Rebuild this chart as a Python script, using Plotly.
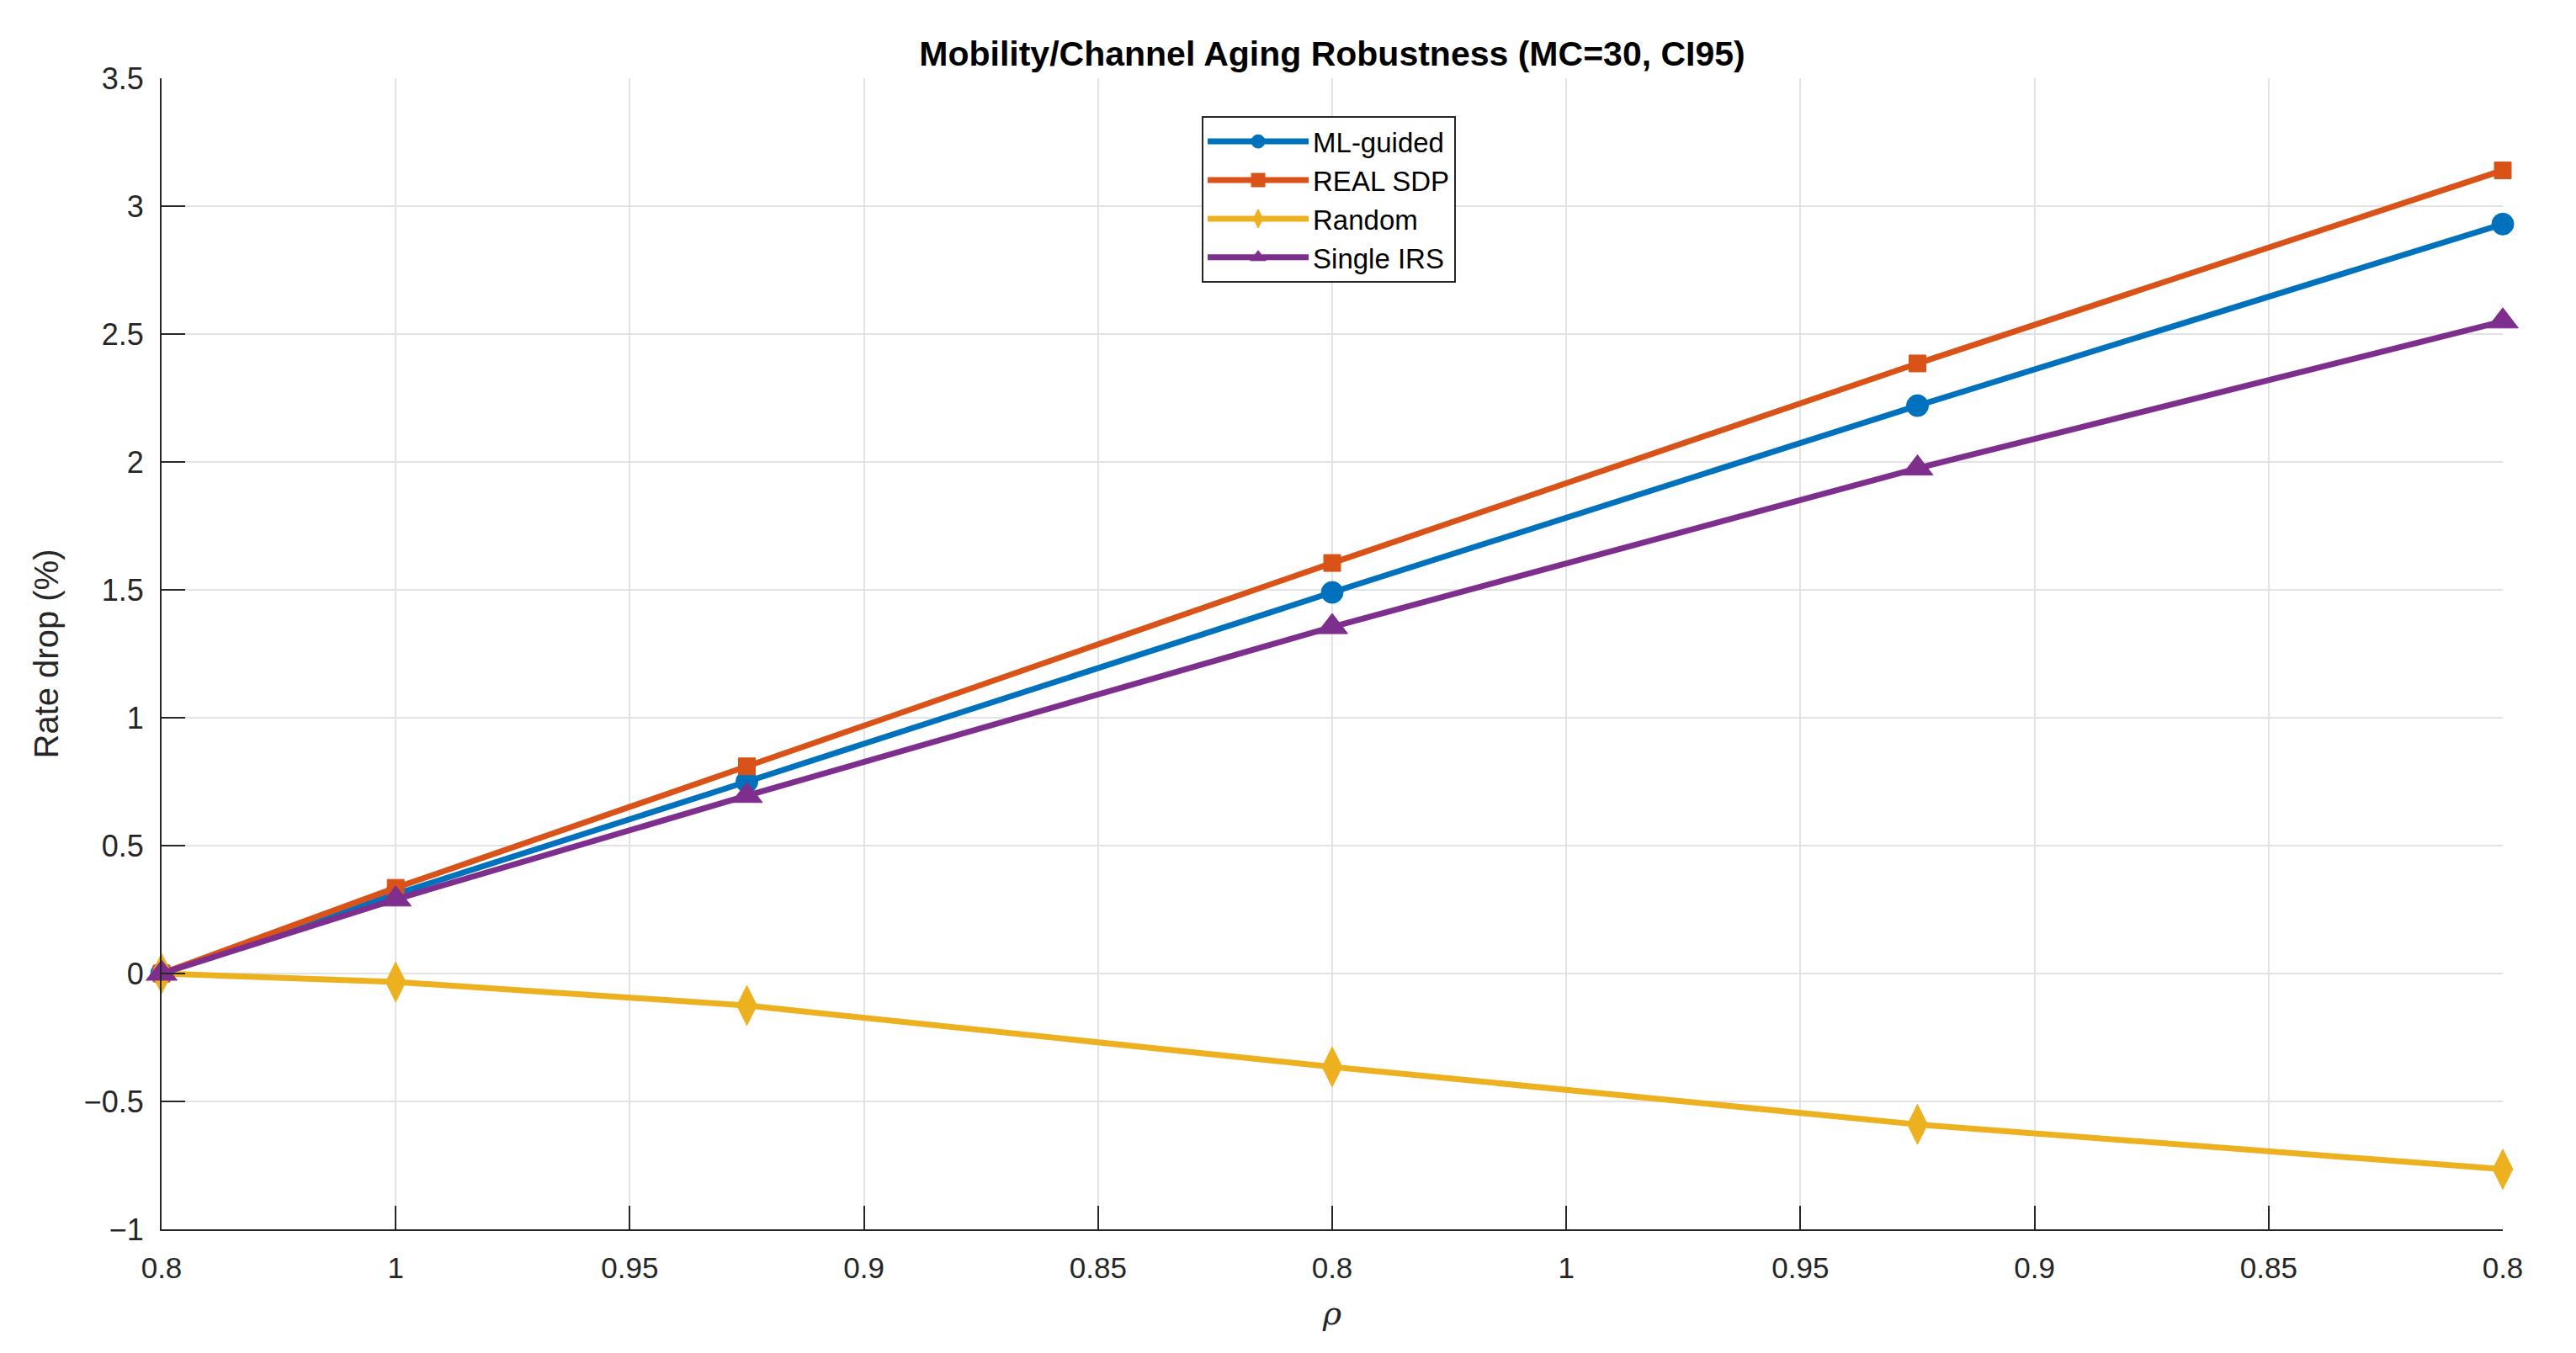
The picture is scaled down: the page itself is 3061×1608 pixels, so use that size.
import plotly.graph_objects as go

# x positions (tick units) and tick labels
x_pos = [0.0, 0.1, 0.25, 0.5, 0.75, 1.0]
tick_vals = [0.0, 0.1, 0.2, 0.3, 0.4, 0.5, 0.6, 0.7, 0.8, 0.9, 1.0]
tick_text = ["0.8", "1", "0.95", "0.9", "0.85", "0.8", "1", "0.95", "0.9", "0.85", "0.8"]
y_tick_vals = [-1, -0.5, 0, 0.5, 1, 1.5, 2, 2.5, 3, 3.5]
y_tick_text = ["\u22121", "\u22120.5", "0", "0.5", "1", "1.5", "2", "2.5", "3", "3.5"]

ml_guided = [0.0, 0.31, 0.75, 1.49, 2.22, 2.93]
real_sdp = [0.0, 0.335, 0.81, 1.605, 2.385, 3.14]
random_cfg = [0.0, -0.033, -0.125, -0.365, -0.59, -0.765]
single_irs = [0.0, 0.29, 0.695, 1.355, 1.975, 2.55]

series = [
    ("ML-guided", ml_guided, "#0072BD", "circle", 26),
    ("REAL SDP", real_sdp, "#D95319", "square", 20),
    ("Random", random_cfg, "#EDB120", "diamond-tall", 34),
    ("Single IRS", single_irs, "#7E2F8E", "triangle-up", 32),
]

FONT = "Liberation Sans, Arial, Helvetica, sans-serif"

fig = go.Figure()
for name, vals, col, sym, sz in series:
    fig.add_trace(go.Scatter(
        x=x_pos, y=vals, name=name, mode="lines+markers",
        line=dict(color=col, width=7),
        marker=dict(symbol=sym, size=sz, color=col, line=dict(color=col, width=1)),
        cliponaxis=False,
    ))

# page body has an 8px margin; figure sized so the plot lands where the reference's does
fig.update_layout(
    width=3045, height=1592,
    paper_bgcolor="white", plot_bgcolor="white",
    margin=dict(l=184, r=79, t=85, b=139, autoexpand=False),
    font=dict(family=FONT, color="#262626", size=35),
    title=dict(text="<b>Mobility/Channel Aging Robustness (MC=30, CI95)</b>",
               x=0.5, xref="paper", xanchor="center", y=1 - 56 / 1592, yanchor="middle",
               font=dict(family=FONT, size=41, color="black")),
    legend=dict(x=0.4443, y=0.967, xanchor="left", yanchor="top",
                bgcolor="white", bordercolor="#262626", borderwidth=2,
                font=dict(family=FONT, size=33, color="black"),
                tracegroupgap=0, itemsizing="trace", itemwidth=120),
    showlegend=True,
)

fig.update_xaxes(
    range=[0, 1], tickmode="array", tickvals=tick_vals, ticktext=tick_text,
    showgrid=True, gridcolor="#e3e3e3", gridwidth=2, zeroline=False,
    showline=True, linecolor="#262626", linewidth=2, automargin=False,
    ticks="inside", ticklen=28, tickwidth=2, tickcolor="#262626",
    ticklabelstandoff=14,
    tickfont=dict(size=35, color="#262626"),
    title=dict(text="<i>ρ</i>", font=dict(family="DejaVu Serif, serif", size=38, color="#262626"), standoff=22),
)
fig.update_yaxes(
    range=[-1, 3.5], tickmode="array", tickvals=y_tick_vals, ticktext=y_tick_text,
    showgrid=True, gridcolor="#e3e3e3", gridwidth=2, zeroline=False,
    showline=True, linecolor="#262626", linewidth=2, automargin=False,
    ticks="inside", ticklen=28, tickwidth=2, tickcolor="#262626",
    ticklabelstandoff=12,
    tickfont=dict(size=36, color="#262626"),
    title=dict(text="Rate drop (%)", font=dict(family=FONT, size=40, color="#262626"), standoff=18),
)

fig.write_html("out.html")
